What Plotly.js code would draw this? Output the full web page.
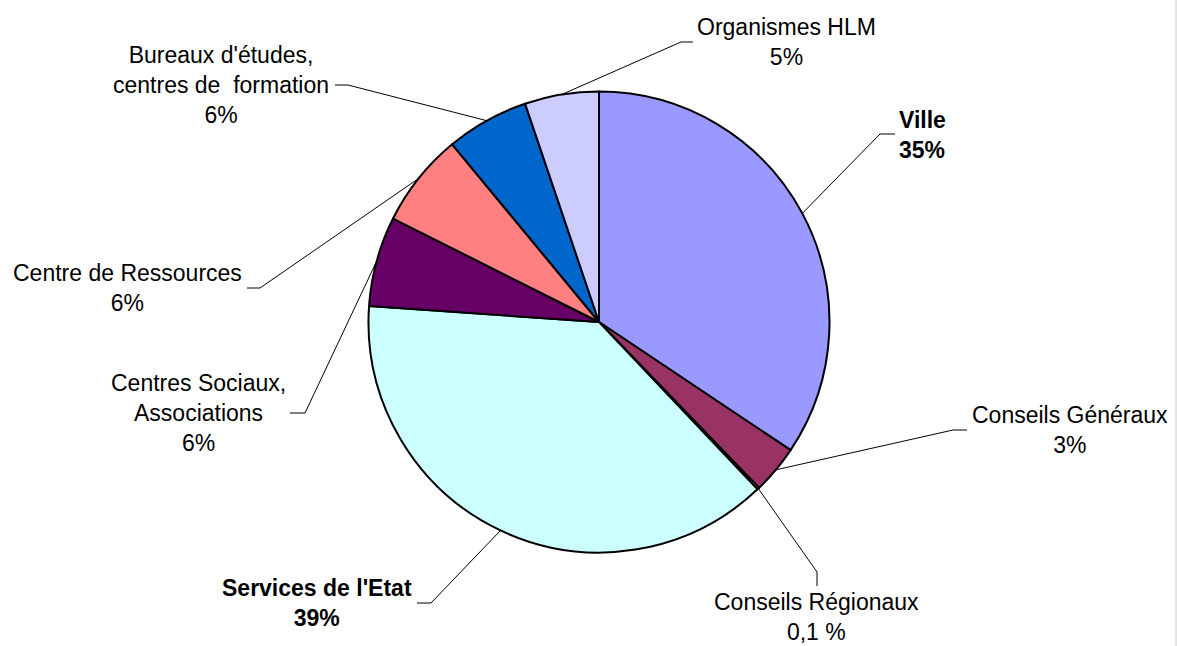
<!DOCTYPE html>
<html>
<head>
<meta charset="utf-8">
<script src="https://cdn.plot.ly/plotly-3.0.1.min.js"></script>
<style>
  html, body { margin: 0; padding: 0; background: #ffffff; }
  #chart { width: 1177px; height: 646px; }
</style>
</head>
<body>
<div id="chart"></div>
<script>
// ---- Data ----
const categories = ['Ville', 'Conseils Généraux', 'Conseils Régionaux', "Services de l'Etat",
  'Centres Sociaux, Associations', 'Centre de Ressources',
  "Bureaux d'études, centres de formation", 'Organismes HLM'];
const values = [34.4, 3.4, 0.15, 38.2, 6.3, 6.6, 5.8, 5.2];
const percentLabels = ['35%', '3%', '0,1 %', '39%', '6%', '6%', '6%', '5%'];
const displayNames = ['Ville', 'Conseils Généraux', 'Conseils Régionaux', "Services de l'Etat",
  'Centres Sociaux,<br>Associations', 'Centre de Ressources',
  "Bureaux d'études,<br>centres de  formation", 'Organismes HLM'];
const boldLabels = [true, false, false, true, false, false, false, false];
const colors = ['#9999FF', '#993366', '#FFFFCC', '#CCFFFF', '#660066', '#FF8080', '#0066CC', '#CCCCFF'];

// ---- Layout geometry (pixels) ----
const W = 1177, H = 646;
const cx = 599, cy = 322, R = 230.5;
// label centres, elbow points and stub ends for the leader lines
const labelPos = [[922, 135], [1070, 430], [817, 617], [317, 603], [198, 413], [127, 288], [221, 85], [786, 42]];
const elbows = [[880, 134], [953, 430], [817, 572], [431, 603], [305, 413], [260, 288], [348, 85], [681, 42]];
const stubs = [[895, 134], [967, 430], [817, 586], [417, 603], [290, 413], [247, 288], [335, 85], [693, 42]];

const px = x => x / W;
const py = y => 1 - y / H;

const total = values.reduce((a, b) => a + b, 0);
let cum = 0;
const shapes = [];
const annotations = [];
values.forEach((v, i) => {
  const mid = (cum + v / 2) / total * 2 * Math.PI;
  cum += v;
  const sx = cx + R * Math.sin(mid);
  const sy = cy - R * Math.cos(mid);
  const e = elbows[i], s = stubs[i];
  shapes.push({
    type: 'path', xref: 'paper', yref: 'paper',
    path: `M ${px(sx)} ${py(sy)} L ${px(e[0])} ${py(e[1])} L ${px(s[0])} ${py(s[1])}`,
    line: { color: '#000000', width: 1 }
  });
  let txt = displayNames[i] + '<br>' + percentLabels[i];
  if (boldLabels[i]) txt = '<b>' + txt + '</b>';
  annotations.push({
    xref: 'paper', yref: 'paper', x: px(labelPos[i][0]), y: py(labelPos[i][1]),
    xanchor: 'center', yanchor: 'middle', showarrow: false,
    align: i === 0 ? 'left' : 'center',
    text: txt,
    font: { family: 'Liberation Sans, Arial, sans-serif', size: 23, color: '#000000' }
  });
});

// thin grey border at right edge
shapes.push({
  type: 'line', xref: 'paper', yref: 'paper',
  x0: px(1176), x1: px(1176), y0: 0, y1: 1,
  line: { color: '#c8c8c8', width: 1 }
});

const trace = {
  type: 'pie',
  labels: categories,
  values: values,
  sort: false,
  direction: 'clockwise',
  rotation: 0,
  textinfo: 'none',
  hoverinfo: 'label+percent',
  marker: { colors: colors, line: { color: '#000000', width: 2 } },
  domain: { x: [px(cx - R), px(cx + R)], y: [py(cy + R), py(cy - R)] },
  showlegend: false
};

const layout = {
  width: W, height: H,
  margin: { l: 0, r: 0, t: 0, b: 0 },
  paper_bgcolor: '#ffffff',
  plot_bgcolor: '#ffffff',
  showlegend: false,
  shapes: shapes,
  annotations: annotations
};

Plotly.newPlot('chart', [trace], layout, { displayModeBar: false, staticPlot: true });
</script>
</body>
</html>
